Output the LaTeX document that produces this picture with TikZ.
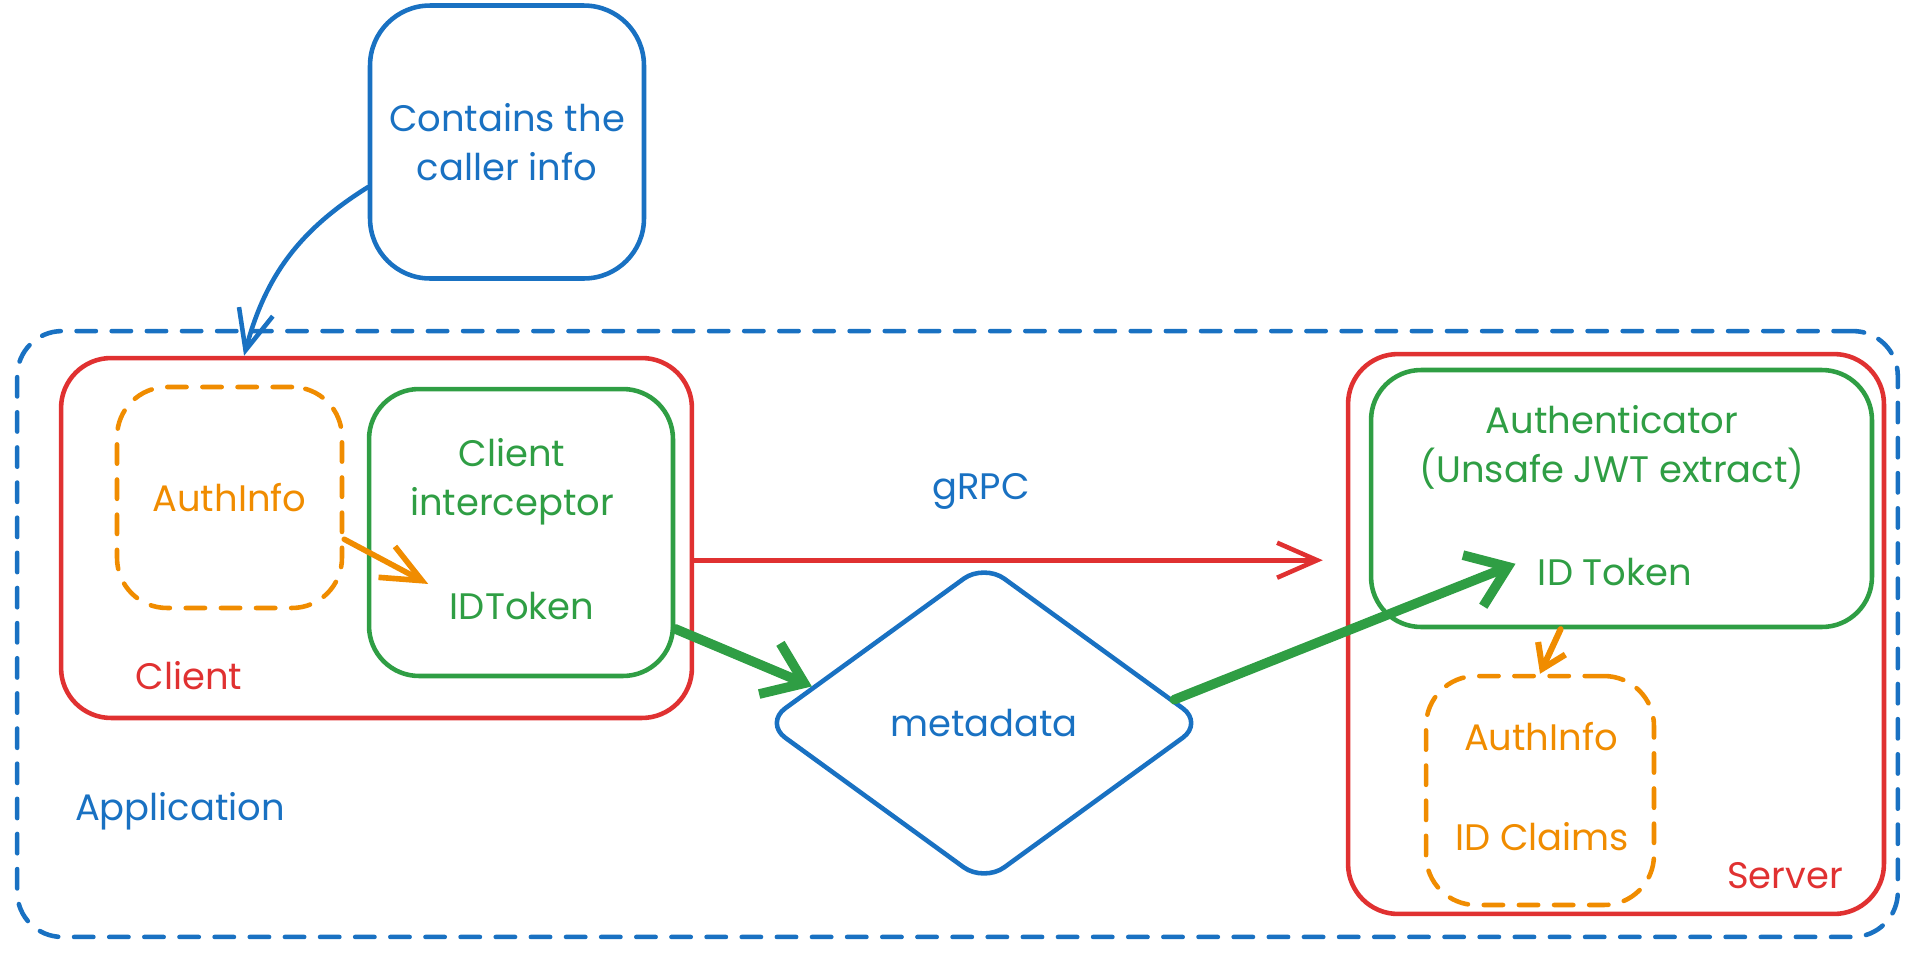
\documentclass[tikz,border=0pt]{standalone}
\usepackage{fontspec}
\setmainfont{Poppins}
\usetikzlibrary{shapes.geometric,arrows.meta}
\definecolor{exblue}{HTML}{1971C2}
\definecolor{exred}{HTML}{E03131}
\definecolor{exgreen}{HTML}{2F9E44}
\definecolor{exorange}{HTML}{F08C00}
\tikzset{every node/.style={font=\fontsize{21}{28}\selectfont, align=center}}

\begin{document}
\begin{tikzpicture}[
  x=0.02cm, y=-0.02cm,
  box/.style={draw=#1, line width=2.6pt, rounded corners=1cm},
  dbox/.style={box=#1, dash pattern=on 11pt off 9pt, line cap=round},
  wire/.style={draw=#1, line width=2.6pt, line cap=round,
    -{Straight Barb[length=0.8cm,width=0.7cm]}},
  fatwire/.style={draw=exgreen, line width=5.5pt, line cap=round,
    -{Straight Barb[length=0.75cm,width=1.1cm]}}
]
\useasboundingbox (0,0) rectangle (1916,957);

% application frame
\node[dbox=exblue, rounded corners=0.9cm, minimum width=37.62cm, minimum height=12.12cm] (app) at (957.5,634) {};
\node[text=exblue] (appname) at (180,811) {Application};

% caller
\node[box=exblue, rounded corners=1.2cm, minimum width=5.48cm, minimum height=5.46cm, text=exblue] (caller) at (507,142) {Contains the\\caller info};

% client side
\node[box=exred, minimum width=12.62cm, minimum height=7.2cm] (client) at (376.5,538) {};
\node[text=exred] (clientname) at (189,676) {Client};
\node[dbox=exorange, minimum width=4.5cm, minimum height=4.42cm, text=exorange] (authL) at (229.5,497.5) {AuthInfo};
\node[box=exgreen, minimum width=6.08cm, minimum height=5.74cm] (icpt) at (521,532.5) {};
\node[text=exgreen] (icptname) at (512,482) {Client\\interceptor};
\node[text=exgreen] (idtok) at (522,606) {IDToken};

% metadata
\node[diamond, draw=exblue, line width=2.6pt, rounded corners=0.5cm, minimum width=8.8cm, minimum height=6.4cm, text=exblue] (meta) at (984,723) {metadata};

% server side
\node[box=exred, minimum width=10.72cm, minimum height=11.2cm] (server) at (1616,634) {};
\node[text=exred] (servername) at (1785,876) {Server};
\node[box=exgreen, minimum width=10.02cm, minimum height=5.14cm] (auth) at (1621.5,498.5) {};
\node[text=exgreen] (authname) at (1612,447) {Authenticator\\(Unsafe JWT extract)};
\node[text=exgreen] (idt) at (1615,572) {ID Token};
\node[dbox=exorange, minimum width=4.56cm, minimum height=4.58cm] (authR) at (1540,790.5) {};
\node[text=exorange] (authRname) at (1541,737) {AuthInfo};
\node[text=exorange] (claims) at (1542,837) {ID Claims};

% connectors
\draw[wire=exblue] (caller.198) to[out=212, in=75] (client.126);
\draw[wire=exorange, line width=3.2pt, shorten >=0.35cm] (authL.-20) -- (idtok.170);
\draw[wire=exred, shorten >=0.46cm] (client.-4) -- node[pos=0.44, above=0.85cm, text=exblue] (grpc) {gRPC} (client.-4 -| server.west);
\draw[fatwire] (icpt.-32) -- (meta.168);
\draw[fatwire, shorten >=0.35cm] (meta.7) -- (idt.170);
\draw[draw=exorange, line width=3.5pt, line cap=round, -{Straight Barb[length=0.45cm,width=0.6cm]}] (auth.-115) -- (authR.north);
\end{tikzpicture}
\end{document}
